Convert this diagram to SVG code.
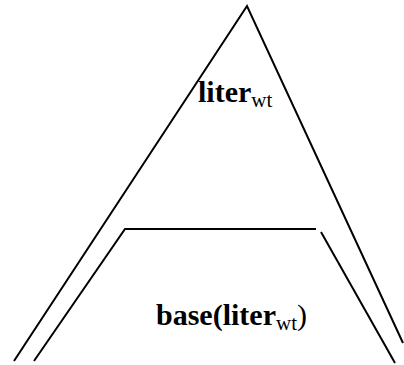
<svg xmlns="http://www.w3.org/2000/svg" width="404" height="365" viewBox="0 0 404 365">
<style>
.ln{fill:none;stroke:#000;stroke-width:2}
.t{font-family:"Liberation Serif","Times New Roman",serif;font-size:30px;fill:#000}
.b{font-weight:bold}
.s{font-size:21px;font-weight:normal}
.n{font-weight:normal}
</style>
<g id="connectors">
<polyline class="ln" points="14,361 247,6 403,343"/>
<polyline class="ln" points="34,361 125,229 316,229"/>
<line class="ln" x1="321" y1="232" x2="395" y2="363"/>
</g>
<g id="top-label"><text class="t b" x="198" y="102">liter<tspan class="s" dy="5">wt</tspan></text></g>
<g id="bottom-label"><text class="t b" x="156" y="325">base(liter<tspan class="s" dy="5">wt</tspan><tspan class="n" dy="-5">)</tspan></text></g>
</svg>
